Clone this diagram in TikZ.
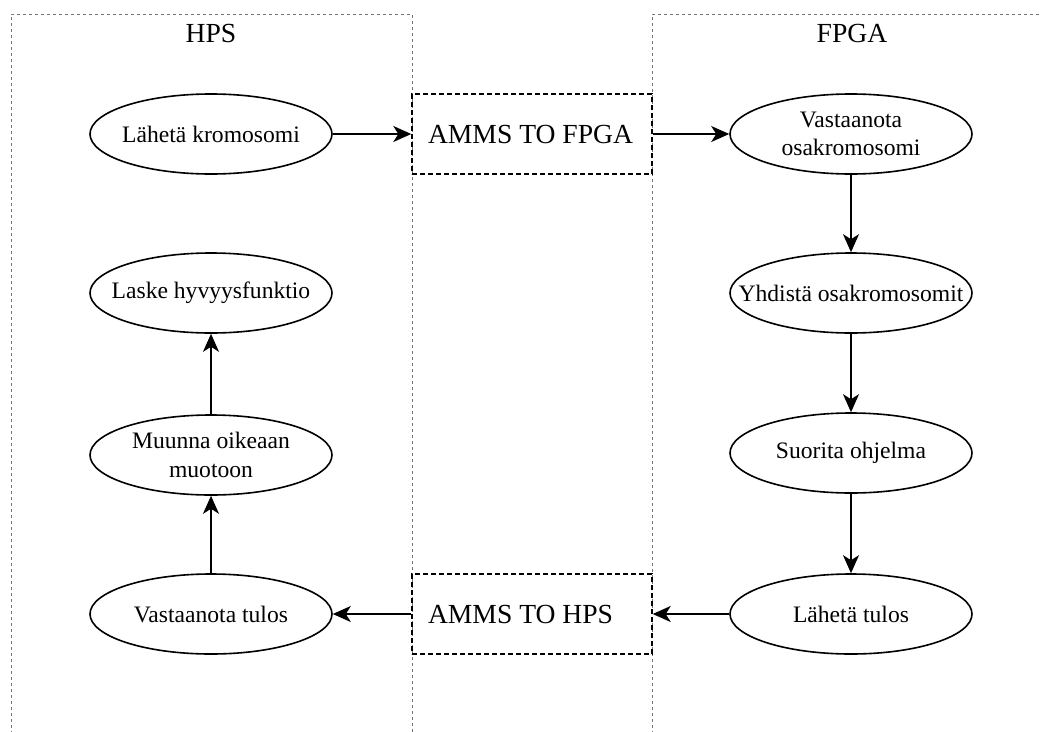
\documentclass[tikz,border=0pt]{standalone}
\usepackage{fontspec}
\setmainfont{Liberation Serif}
\usetikzlibrary{arrows.meta,shapes.geometric}
\newcommand{\ctr}[1]{\makebox[0pt]{#1}}
\begin{document}
\begin{tikzpicture}[x=1pt,y=-1pt,
  zone/.style={draw=black!55, line width=1pt, dash pattern=on 3pt off 3pt},
  proc/.style={draw=black, line width=1.6pt, ellipse, minimum width=242pt,
    minimum height=80pt, inner sep=0pt, align=center,
    font=\fontsize{23.6}{28.3}\selectfont},
  bridge/.style={draw=black, line width=1.4pt, dash pattern=on 5pt off 3pt,
    minimum width=240pt, minimum height=80pt, inner sep=0pt,
    font=\fontsize{27.6}{33}\selectfont},
  title/.style={font=\fontsize{27.6}{33}\selectfont, inner sep=0pt},
  arr/.style={line width=1.8pt, -{Stealth[length=18pt,width=16pt,inset=5pt]}}]
\path[use as bounding box, clip] (0,0) rectangle (1041,731);

% the two processing domains
\draw[zone] (11,740) -- (11,14) -- (412,14) -- (412,740);
\draw[zone] (652,740) -- (652,14) -- (1050,14);
\node[title] (thps) at (211,33) {HPS};
\node[title] (tfpga) at (852,33) {FPGA};

% HPS side
\node[proc] (lk) at (211,134) {\ctr{Lähetä kromosomi}};
\node[proc] (lh) at (211,293) {\ctr{Laske hyvyysfunktio}};
\node[proc] (mo) at (211,455) {\ctr{Muunna oikeaan}\\\ctr{muotoon}};
\node[proc] (vt) at (211,614) {\ctr{Vastaanota tulos}};

% FPGA side
\node[proc] (vo) at (851,134) {\ctr{Vastaanota}\\\ctr{osakromosomi}};
\node[proc] (yo) at (851,293) {\ctr{Yhdistä osakromosomit}};
\node[proc] (so) at (851,453) {\ctr{Suorita ohjelma}};
\node[proc] (lt) at (851,614) {\ctr{Lähetä tulos}};

% transfer blocks between the domains
\node[bridge] (af) at (532,134) {\makebox[208pt][l]{AMMS TO FPGA}};
\node[bridge] (ah) at (532,614) {\makebox[208pt][l]{AMMS TO HPS}};

% data flow
\draw[arr] (lk.east) -- (af.west);
\draw[arr] (af.east) -- (vo.west);
\draw[arr] (vo.south) -- (yo.north);
\draw[arr] (yo.south) -- (so.north);
\draw[arr] (so.south) -- (lt.north);
\draw[arr] (lt.west) -- (ah.east);
\draw[arr] (ah.west) -- (vt.east);
\draw[arr] (vt.north) -- (mo.south);
\draw[arr] (mo.north) -- (lh.south);
\end{tikzpicture}
\end{document}
